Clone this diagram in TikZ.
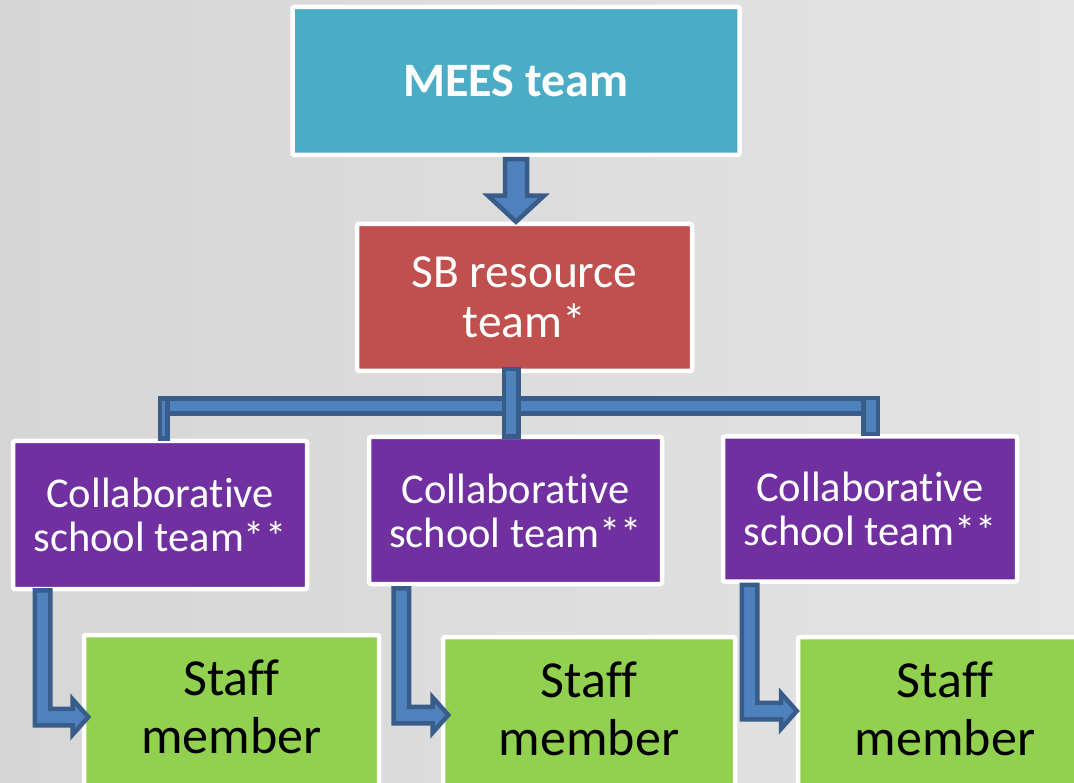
\documentclass[tikz,border=0pt]{standalone}
\usepackage{fontspec}
\setmainfont{Carlito}[Ligatures={NoCommon}]
\usetikzlibrary{calc}
\definecolor{bgL}{HTML}{D6D6D6}
\definecolor{bgR}{HTML}{E4E4E4}
\definecolor{mees}{HTML}{4BACC6}
\definecolor{sbred}{HTML}{C0504D}
\definecolor{cpurple}{HTML}{7030A0}
\definecolor{sgreen}{HTML}{92D050}
\definecolor{arrfill}{HTML}{4F81BD}
\definecolor{arrline}{HTML}{385D8A}
\newcommand\myLarrow[2]{%
\draw[barrow] let \p1=(#1), \p2=(#2) in
 (\x1,\y1) -- (\x1+15.5pt,\y1) -- (\x1+15.5pt,\y2+8.25pt) -- (\x2-15.75pt,\y2+8.25pt)
 -- (\x2-15.75pt,\y2+17.75pt) -- (\x2,\y2) -- (\x2-15.75pt,\y2-17.75pt)
 -- (\x2-15.75pt,\y2-8.25pt) -- (\x1,\y2-8.25pt) -- cycle;}
\newcommand\staffmember{Staff\\member\rule[-10pt]{0pt}{10pt}}
\begin{document}
\begin{tikzpicture}[x=1pt,y=-1pt,
  box/.style={draw=white, line width=4.5pt, rounded corners=2pt, align=center, inner sep=0pt},
  bigtext/.style={font=\fontsize{47.5}{50}\selectfont},
  midtext/.style={font=\fontsize{42.5}{44}\selectfont},
  greentext/.style={font=\fontsize{52}{58}\selectfont},
  barrow/.style={fill=arrfill, draw=arrline, line width=4.5pt, line join=miter}]
\useasboundingbox (0,0) rectangle (1074,783);
\clip (0,0) rectangle (1074,783);
\shade[left color=bgL, right color=bgR] (0,0) rectangle (1074,783);

% boxes
\node[box, fill=mees, text=white, minimum width=447pt, minimum height=148pt,
      font=\bfseries\fontsize{48}{50}\selectfont] (mees) at (516,81) {MEES team};
\node[box, fill=sbred, text=white, minimum width=335pt, minimum height=147pt, bigtext]
      (sb) at (524.5,297.5) {SB resource\\team*};
\node[box, fill=cpurple, text=white, minimum width=294pt, minimum height=148pt, midtext]
      (p1) at (160,515) {Collaborative\\school team**};
\node[box, fill=cpurple, text=white, minimum width=293pt, minimum height=147pt, midtext]
      (p2) at (515.5,510.5) {Collaborative\\school team**};
\node[box, fill=cpurple, text=white, minimum width=294pt, minimum height=145pt, midtext]
      (p3) at (870,509) {Collaborative\\school team**};
\node[box, fill=sgreen, text=black, minimum width=295pt, minimum height=154pt, greentext]
      (g1) at (231.5,712) {\staffmember};
\node[box, fill=sgreen, text=black, minimum width=292pt, minimum height=154pt, greentext]
      (g2) at (589,714) {\staffmember};
\node[box, fill=sgreen, text=black, minimum width=294pt, minimum height=154pt, greentext]
      (g3) at (945,714) {\staffmember};

% top arrow MEES -> SB
\coordinate (t) at (mees.south |- sb.north);
\draw[barrow] ($(mees.south)+(-11,2)$) -- ($(mees.south)+(11,2)$) -- ($(t)+(11,-26)$)
  -- ($(t)+(28,-26)$) -- (t) -- ($(t)+(-28,-26)$) -- ($(t)+(-11,-26)$) -- cycle;

% tree connector SB -> collaborative teams
\coordinate (busL) at ($(p1.north)+(7,-32.5)$);
\coordinate (busR) at ($(p3.north)+(0.5,-28.5)$);
\draw[barrow] ($(busL)+(-7.25,-7.75)$) rectangle ($(busR)+(7.25,7.75)$);
\draw[barrow] ($(busL)+(-7.25,-7.75)$) rectangle ($(p1.north)+(7.25,0)$);
\draw[barrow] ($(busR)+(-7.25,-7.75)$) rectangle ($(p3.north)+(7.75,0)$);
\draw[barrow] ($(sb.south)+(-20.75,-4)$) rectangle ($(p2.north)+(2.75,2)$);

% L arrows collaborative team -> staff member
\coordinate (a1s) at ($(p1.south)+(-125.25,-1)$);
\coordinate (a1e) at ($(g1.west)+(6.5,5)$);
\coordinate (a2s) at ($(p2.south)+(-122,2)$);
\coordinate (a2e) at ($(g2.west)+(7.5,1)$);
\coordinate (a3s) at ($(p3.south)+(-128.25,1)$);
\coordinate (a3e) at ($(g3.west)+(1,-3)$);
\myLarrow{a1s}{a1e}
\myLarrow{a2s}{a2e}
\myLarrow{a3s}{a3e}
\end{tikzpicture}
\end{document}
